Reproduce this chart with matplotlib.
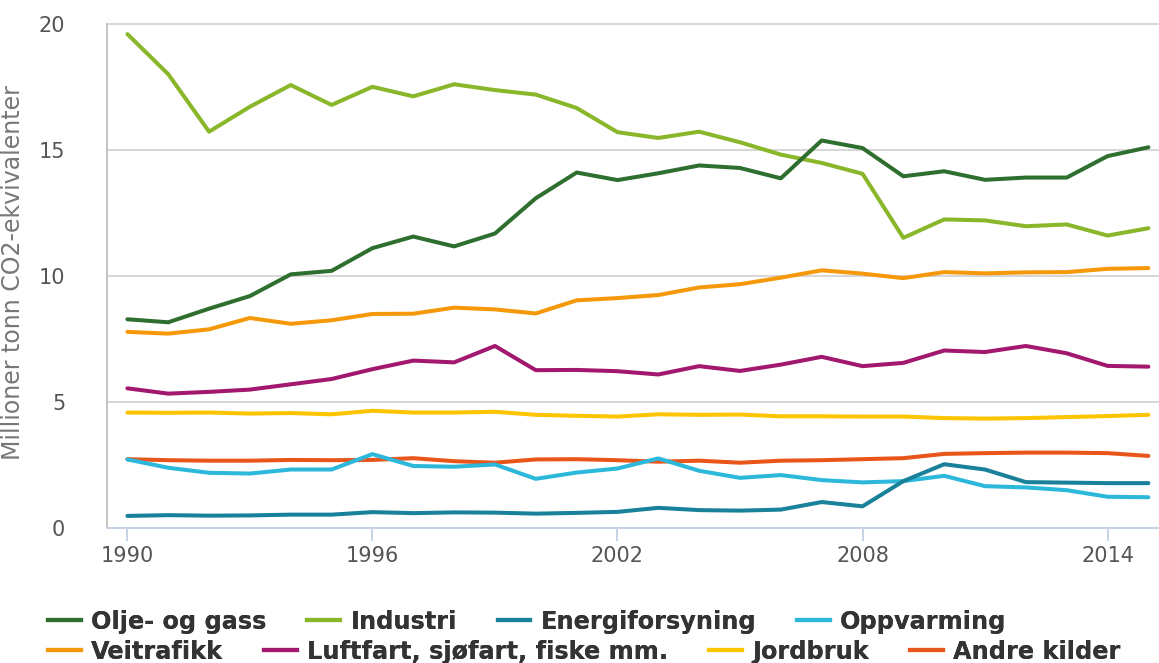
import matplotlib.pyplot as plt
from matplotlib.lines import Line2D

# år
years = list(range(1990, 2016))

# utslipp, millioner tonn CO2-ekvivalenter
olje_gass = [8.28, 8.16, 8.7, 9.2, 10.06, 10.2, 11.1, 11.56, 11.17, 11.68, 13.08, 14.1, 13.8, 14.07,
             14.38, 14.28, 13.87, 15.37, 15.07, 13.95, 14.15, 13.81, 13.9, 13.9, 14.75, 15.1]
industri = [19.59, 18.0, 15.72, 16.71, 17.57, 16.78, 17.5, 17.12, 17.6, 17.37, 17.19, 16.66, 15.7, 15.47,
            15.72, 15.3, 14.81, 14.48, 14.05, 11.51, 12.24, 12.2, 11.97, 12.04, 11.6, 11.89]
energiforsyning = [0.48, 0.51, 0.49, 0.5, 0.53, 0.53, 0.63, 0.59, 0.62, 0.61, 0.57, 0.6, 0.64, 0.8,
                   0.71, 0.69, 0.73, 1.03, 0.86, 1.86, 2.53, 2.32, 1.82, 1.8, 1.78, 1.78]
oppvarming = [2.72, 2.39, 2.19, 2.16, 2.32, 2.32, 2.93, 2.46, 2.43, 2.52, 1.95, 2.2, 2.36, 2.76,
              2.27, 1.99, 2.1, 1.9, 1.81, 1.86, 2.07, 1.66, 1.61, 1.5, 1.24, 1.22]
veitrafikk = [7.78, 7.71, 7.88, 8.33, 8.1, 8.24, 8.49, 8.5, 8.74, 8.67, 8.51, 9.03, 9.12, 9.24,
              9.54, 9.67, 9.93, 10.22, 10.09, 9.91, 10.15, 10.1, 10.14, 10.15, 10.28, 10.31]
luftfart = [5.54, 5.33, 5.4, 5.49, 5.7, 5.91, 6.3, 6.64, 6.57, 7.22, 6.26, 6.27, 6.22, 6.09,
            6.42, 6.23, 6.48, 6.79, 6.42, 6.55, 7.04, 6.98, 7.22, 6.93, 6.43, 6.4]
jordbruk = [4.58, 4.57, 4.58, 4.54, 4.56, 4.51, 4.65, 4.58, 4.58, 4.61, 4.49, 4.45, 4.42, 4.51,
            4.49, 4.5, 4.43, 4.43, 4.42, 4.42, 4.36, 4.34, 4.36, 4.4, 4.44, 4.49]
andre = [2.73, 2.69, 2.67, 2.67, 2.7, 2.69, 2.7, 2.77, 2.65, 2.59, 2.72, 2.73, 2.69, 2.63,
         2.67, 2.59, 2.67, 2.69, 2.73, 2.77, 2.94, 2.97, 2.99, 2.99, 2.97, 2.86]

labels = ['Olje- og gass', 'Industri', 'Energiforsyning', 'Oppvarming',
          'Veitrafikk', 'Luftfart, sjøfart, fiske mm.', 'Jordbruk', 'Andre kilder']
series = [olje_gass, industri, energiforsyning, oppvarming, veitrafikk, luftfart, jordbruk, andre]
colors = ['#2e6f30', '#8ab62a', '#19819a', '#2bb8db', '#f5990a', '#a2186f', '#fdc400', '#e9561c']

fig = plt.figure(figsize=(11.59, 6.63), dpi=100)
ax = fig.add_axes([0.0923, 0.2036, 0.9077, 0.7617])

# tegn linjene, i omvendt rekkefølge så de første havner øverst
for ys, c in list(zip(series, colors))[::-1]:
    ax.plot(years, ys, color=c, lw=2.9, solid_capstyle='round', solid_joinstyle='round', zorder=3)

ax.set_xlim(1989.5, 2015.26)
ax.set_ylim(0, 20.03)
ax.set_yticks([0, 5, 10, 15, 20])
ax.set_xticks([1990, 1996, 2002, 2008, 2014])
ax.grid(axis='y', color='#d6d6d6', lw=1.4, zorder=0)

ax.spines['top'].set_visible(False)
ax.spines['right'].set_visible(False)
ax.spines['left'].set_color('#c4c4c4')
ax.spines['left'].set_linewidth(1.4)
ax.spines['left'].set_bounds(0, 20)
ax.spines['bottom'].set_color('#c5d3e3')
ax.spines['bottom'].set_linewidth(1.4)

ax.tick_params(axis='y', length=0, pad=30, labelsize=15, labelcolor='#555555')
ax.tick_params(axis='x', length=9, width=1.4, color='#c5d3e3', pad=4, labelsize=15, labelcolor='#555555')
for lab in ax.get_yticklabels():
    lab.set_horizontalalignment('right')

ax.set_ylabel('Millioner tonn CO2-ekvivalenter', fontsize=17, color='#777777')
ax.yaxis.set_label_coords(-0.078, 0.505)

# tegnforklaring i to rader
handles = [Line2D([], [], color=c, lw=3.0) for c in colors]
for row, ypos in [(0, 0.062), (1, 0.017)]:
    h = handles[row * 4:(row + 1) * 4]
    l = labels[row * 4:(row + 1) * 4]
    leg = fig.legend(h, l, ncol=4, loc='center left', bbox_to_anchor=(0.0415, ypos),
                     frameon=False, handlelength=1.37, handletextpad=0.42, columnspacing=1.7,
                     borderpad=0, borderaxespad=0,
                     prop={'weight': 'bold', 'size': 17.3})
    for t in leg.get_texts():
        t.set_color('#333333')
    fig.add_artist(leg)

fig.savefig('out.png', dpi=100)
